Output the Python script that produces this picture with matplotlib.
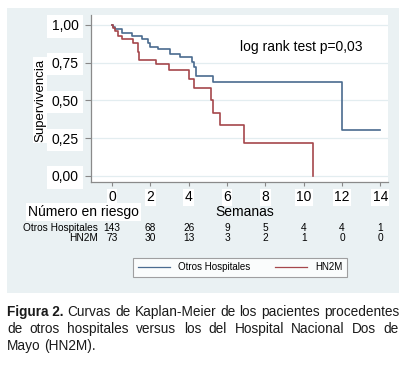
import numpy as np
import matplotlib
matplotlib.use("Agg")
import matplotlib.pyplot as plt
from matplotlib.patches import Rectangle

# Kaplan-Meier steps (weeks, survival after the drop)
otros_t = [0, 0.05, 0.16, 0.5, 1.02, 1.55, 1.9, 2.0, 2.4, 3.0, 3.55, 4.15, 4.3, 4.4, 5.25, 12.0, 14.0]
otros_s = [1.0, 0.985, 0.97, 0.945, 0.93, 0.91, 0.88, 0.855, 0.84, 0.81, 0.79, 0.755, 0.72, 0.66, 0.62, 0.305, 0.305]
hn2m_t = [0, 0.05, 0.15, 0.3, 0.5, 1.1, 1.35, 1.42, 2.27, 2.97, 4.0, 4.27, 5.15, 5.26, 5.65, 6.88, 10.47]
hn2m_s = [1.0, 0.98, 0.96, 0.93, 0.91, 0.88, 0.82, 0.77, 0.74, 0.70, 0.64, 0.58, 0.50, 0.415, 0.34, 0.22, 0.0]

xticks = [0, 2, 4, 6, 8, 10, 12, 14]
yticks = [0, 0.25, 0.5, 0.75, 1.0]
ylabels = ["0,00", "0,25", "0,50", "0,75", "1,00"]
riesgo_otros = [143, 68, 26, 9, 5, 4, 4, 1]
riesgo_hn2m = [73, 30, 13, 3, 2, 1, 0, 0]

blue = "#4a6b8f"
red = "#a5474c"
panel = "#eaf1f3"
W, H = 407, 370

plt.rcParams["font.family"] = ["Liberation Sans", "DejaVu Sans"]
fig = plt.figure(figsize=(W / 100, H / 100), dpi=100)

def fx(px):
    return px / W

def fy(py):
    return 1 - py / H

# light graph region behind everything
fig.patches.append(Rectangle((fx(7), fy(293)), fx(392), (293 - 8) / H,
                             transform=fig.transFigure, facecolor=panel,
                             edgecolor="none", zorder=-5))

ax = fig.add_axes([fx(91), fy(182), fx(388 - 91), (182 - 15) / H])
ax.set_facecolor("white")
ax.step(otros_t, otros_s, where="post", color=blue, lw=1.2, label="Otros Hospitales")
ax.step(hn2m_t, hn2m_s, where="post", color=red, lw=1.2, label="HN2M")

ax.set_xlim(-1.1, 14.4)
ax.set_ylim(-0.04, 1.066)
ax.set_yticks(yticks)
ax.set_yticklabels(ylabels, fontsize=10,
                   bbox=dict(facecolor="white", edgecolor="none", pad=3))
ax.set_xticks(xticks)
ax.set_xticklabels([str(v) for v in xticks], fontsize=10,
                   bbox=dict(facecolor="white", edgecolor="none", pad=1))
ax.tick_params(axis="y", length=4, width=0.8, color="#888888", pad=5)
ax.tick_params(axis="x", length=3, width=0.8, color="#888888", pad=3)
ax.grid(axis="y", color="#e3edf0", lw=0.9)
ax.set_axisbelow(True)
for s in ["top", "right"]:
    ax.spines[s].set_visible(False)
for s in ["left", "bottom"]:
    ax.spines[s].set_color("#8a8a8a")
    ax.spines[s].set_linewidth(0.9)

ax.text(0.5, 0.81, "log rank test p=0,03", transform=ax.transAxes, fontsize=10,
        ha="left", va="center")

fig.text(fx(40), fy(100), "Supervivencia", rotation=90, fontsize=9.5,
         ha="center", va="center",
         bbox=dict(facecolor="white", edgecolor="none", pad=1))
fig.text(fx(245), fy(212), "Semanas", fontsize=10, ha="center", va="center")
fig.text(fx(28), fy(212), "Número en riesgo", fontsize=10, ha="left", va="center",
         bbox=dict(facecolor="white", edgecolor="none", pad=1.5))

# number at risk table
trans = ax.get_xaxis_transform()
ry1 = (182 - 228) / 167
ry2 = (182 - 238) / 167
tfont = dict(family=["Liberation Sans Narrow", "Liberation Sans"], fontsize=7.3)
ax.text(-0.75, ry1, "Otros Hospitales", transform=trans, ha="right", va="center", **tfont)
ax.text(-0.75, ry2, "HN2M", transform=trans, ha="right", va="center", **tfont)
for x, a, b in zip(xticks, riesgo_otros, riesgo_hn2m):
    ax.text(x, ry1, str(a), transform=trans, ha="center", va="center", **tfont)
    ax.text(x, ry2, str(b), transform=trans, ha="center", va="center", **tfont)

leg = fig.legend(loc="center", bbox_to_anchor=(fx(240), fy(267.5)), ncol=2,
                 fontsize=7, frameon=True, fancybox=False, handlelength=3.3,
                 columnspacing=2.6, borderpad=0.45, handletextpad=0.8)
leg.get_frame().set_edgecolor("#8a8a8a")
leg.get_frame().set_linewidth(0.8)
for line in leg.get_lines():
    line.set_linewidth(0.9)

# justified caption
caption = [
    [("Figura 2.", True), ("Curvas", False), ("de", False), ("Kaplan-Meier", False),
     ("de", False), ("los", False), ("pacientes", False), ("procedentes", False)],
    [("de", False), ("otros", False), ("hospitales", False), ("versus", False),
     ("los", False), ("del", False), ("Hospital", False), ("Nacional", False),
     ("Dos", False), ("de", False)],
    [("Mayo", False), ("(HN2M).", False)],
]
line_y = [312, 329, 346]
left, right = 7, 399
cap_size = 9.8
fig.canvas.draw()
renderer = fig.canvas.get_renderer()
for i, words in enumerate(caption):
    objs = []
    for w, bold in words:
        t = fig.text(0, fy(line_y[i]), w, fontsize=cap_size, va="center", ha="left",
                     color="#1a1a1a", fontweight="bold" if bold else "normal")
        objs.append(t)
    widths = [t.get_window_extent(renderer).width for t in objs]
    if i < len(caption) - 1:
        gap = (right - left - sum(widths)) / (len(objs) - 1)
    else:
        gap = 3.5
    x = left
    for t, wd in zip(objs, widths):
        t.set_x(fx(x))
        x += wd + gap

fig.savefig("out.png", dpi=100)
